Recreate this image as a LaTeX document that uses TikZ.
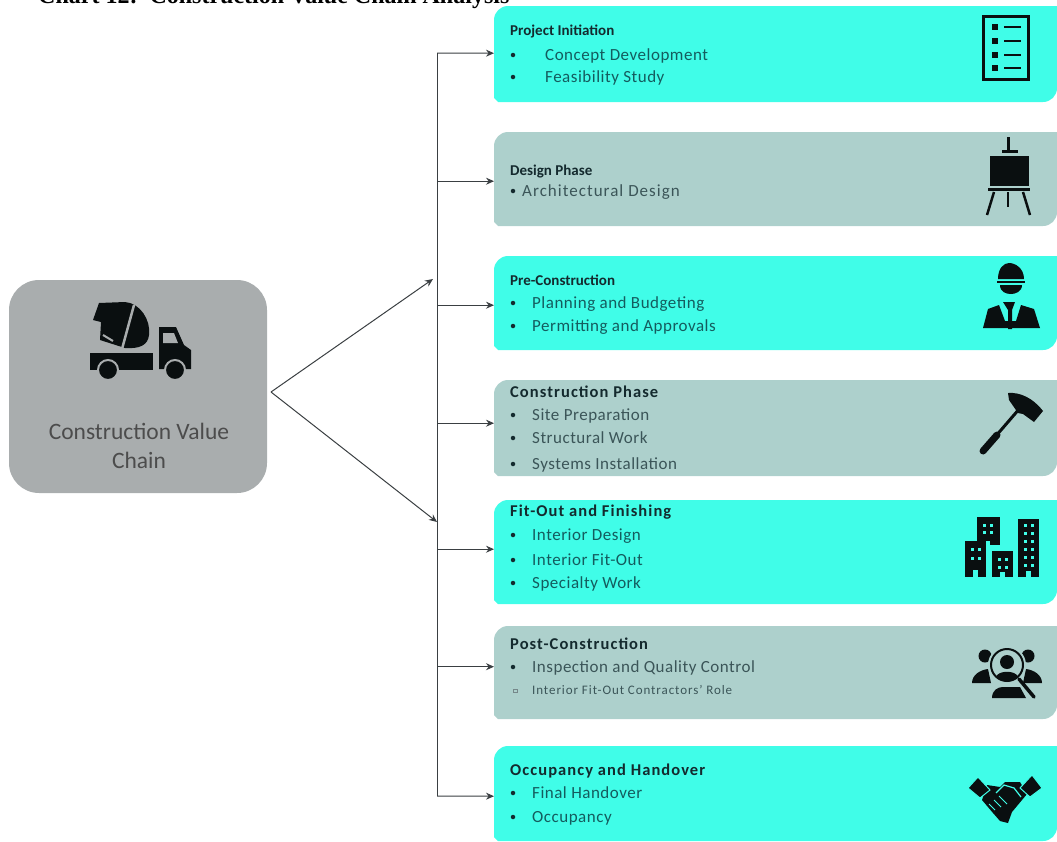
\documentclass[tikz,border=0pt]{standalone}
\usepackage{fontspec}
\setmainfont{Carlito}
\newfontfamily\titlefont{Liberation Serif}
\usetikzlibrary{arrows.meta,calc}
\definecolor{cyanbox}{HTML}{40FDE8}
\definecolor{tealbox}{HTML}{ADD0CC}
\definecolor{greybox}{HTML}{A9ADAE}
\definecolor{linecol}{HTML}{3A3F42}
\definecolor{headcol}{HTML}{142A2E}
\definecolor{itemA}{HTML}{145C5E}
\definecolor{itemB}{HTML}{3B5558}
\definecolor{iconcol}{HTML}{0A0F10}
\tikzset{
  x=1pt,y=-1pt,
  connector/.style={draw=linecol,line width=1pt},
  arrowline/.style={connector,-{Stealth[length=8pt,width=7pt]}},
  head/.style={anchor=base west,inner sep=0pt,font=\fontsize{15}{15}\selectfont\bfseries,text=headcol},
  widehead/.style={anchor=base west,inner sep=0pt,font=\fontsize{16.5}{17}\selectfont\bfseries\addfontfeature{LetterSpace=6.5},text=headcol},
  itemtxt/.style={anchor=base west,inner sep=0pt,font=\fontsize{17}{17}\selectfont\addfontfeature{LetterSpace=3}},
  bul/.style={circle,fill=headcol,inner sep=0pt,minimum size=4.5pt},
  hit/.style={inner sep=0pt,anchor=north west},
  ico/.style={fill=iconcol,draw=none},
}
% name, top, bottom, colour
\newcommand{\phasebox}[4]{%
  \fill[#4] (494,#2+14) arc[start angle=180,end angle=270,radius=14] -- (1057,#2) -- (1057,#3-14)
     arc[start angle=0,end angle=90,radius=14] -- (498,#3) -- (494,#3-4) -- cycle;
  \node[hit,minimum width=563pt,minimum height={(#3-#2)*1pt}] (#1) at (494,#2) {};
}
\newcommand{\bitem}[6]{% name, bullet x, text x, y, colour, text
  \node[bul] (#1b) at (#2,#4-5) {};
  \node[itemtxt,text=#5] (#1) at (#3,#4) {#6};
}
\begin{document}
\begin{tikzpicture}
\useasboundingbox (0,0) rectangle (1057,841);
\clip (0,0) rectangle (1057,841);
\node[anchor=base west,inner sep=0pt,font=\titlefont\fontsize{24}{24}\selectfont\bfseries,text=black] (title) at (38,3) {Chart 12:\ \ Construction Value Chain Analysis};

% main box
\node[fill=greybox,rounded corners=30pt,minimum width=258pt,minimum height=213pt,inner sep=0pt] (main) at (138,386.5) {};
\node[inner sep=0pt,font=\fontsize{23.5}{29}\selectfont,text=black!70,align=center] (mainlabel) at (139,446) {Construction Value\\Chain};

% truck
\fill[ico] (99,303) -- (125,302) .. controls (140,303) and (151,320) .. (149,335) .. controls (148,345) and (140,349) .. (125,348) -- (100,340) -- (101,322) -- (93,320) -- cycle;
\draw[greybox,line width=2.5pt] (134,305) -- (122,349);
\draw[greybox,line width=2pt] (103,335) -- (113,341);
\fill[ico] (90,353) rectangle (153,370);
\fill[ico] (159,327) -- (176,327) -- (184,345) -- (191,350) -- (191,369) -- (159,369) -- cycle;
\fill[greybox] (163,333) -- (174,333) -- (178,343) -- (163,343) -- cycle;
\fill[ico,draw=greybox,line width=2pt] (108,370) circle[radius=10];
\fill[ico,draw=greybox,line width=2pt] (175,370) circle[radius=10];

% phase boxes
\phasebox{b1}{6}{102}{cyanbox}
\phasebox{b2}{132}{226}{tealbox}
\phasebox{b3}{256}{350}{cyanbox}
\phasebox{b4}{380}{476}{tealbox}
\phasebox{b5}{500}{604}{cyanbox}
\phasebox{b6}{626}{719}{tealbox}
\phasebox{b7}{746}{841}{cyanbox}

% connectors
\coordinate (spinetop) at (437,53);
\coordinate (spinebot) at (437,796);
\coordinate (fork) at (271,392);
\coordinate (upend) at (433,279);
\coordinate (downend) at (437,522);
\draw[connector] (spinetop) -- (spinebot);
\draw[arrowline] (spinetop) -- ($(b1.west)+(0,-1)$);
\draw[arrowline] (spinetop |- b2.west) ++(0,2) -- ($(b2.west)+(0,2)$);
\draw[arrowline] (spinetop |- b3.west) ++(0,2) -- ($(b3.west)+(0,2)$);
\draw[arrowline] (spinetop |- b4.west) ++(0,-5) -- ($(b4.west)+(0,-5)$);
\draw[arrowline] (spinetop |- b5.west) ++(0,-3) -- ($(b5.west)+(0,-3)$);
\draw[arrowline] (spinetop |- b6.west) ++(0,-6) -- ($(b6.west)+(0,-6)$);
\draw[arrowline] (spinebot) -- ($(b7.west)+(0,2.5)$);
\draw[arrowline] (fork) -- (upend);
\draw[arrowline] (fork) -- (downend);

% text: project initiation
\node[head] (h1) at (510,35) {Project Initiation};
\bitem{i11}{513}{545}{60}{itemA}{Concept Development}
\bitem{i12}{513}{545}{82}{itemA}{Feasibility Study}
% design
\node[head] (h2) at (510,175) {Design Phase};
\bitem{i21}{513}{522}{196}{itemB}{\addfontfeature{LetterSpace=6}Architectural Design}
% pre-construction
\node[head] (h3) at (510,285) {Pre-Construction};
\bitem{i31}{513}{532}{308}{itemA}{Planning and Budgeting}
\bitem{i32}{513}{532}{331}{itemA}{Permitting and Approvals}
% construction
\node[widehead] (h4) at (510,397) {Construction Phase};
\bitem{i41}{513}{532}{420}{itemB}{Site Preparation}
\bitem{i42}{513}{532}{443}{itemB}{Structural Work}
\bitem{i43}{513}{532}{469}{itemB}{Systems Installation}
% fit-out
\node[widehead] (h5) at (510,516) {Fit-Out and Finishing};
\bitem{i51}{513}{532}{540}{itemA}{Interior Design}
\bitem{i52}{513}{532}{565}{itemA}{Interior Fit-Out}
\bitem{i53}{513}{532}{588}{itemA}{Specialty Work}
% post-construction
\node[widehead] (h6) at (510,649) {Post-Construction};
\bitem{i61}{513}{532}{672}{itemB}{Inspection and Quality Control}
\node[draw=itemB!70,inner sep=0pt,minimum size=3.5pt,line width=.5pt] (i62b) at (515,690.5) {};
\node[itemtxt,text=itemB,font=\fontsize{13}{13}\selectfont\addfontfeature{LetterSpace=7}] (i62) at (532,694) {Interior Fit-Out Contractors' Role};
% occupancy
\node[widehead] (h7) at (510,775) {Occupancy and Handover};
\bitem{i71}{513}{532}{798}{itemA}{Final Handover}
\bitem{i72}{513}{532}{822}{itemA}{Occupancy}

% icon 1: checklist
\draw[iconcol,line width=3pt] (983.5,16.5) rectangle (1028,79.5);
\foreach \yy in {27,41,55,68}{
  \fill[ico] (992,\yy-3) rectangle (998,\yy+3);
  \fill[ico] (1004,\yy-1.2) rectangle (1021,\yy+1.2);
}
% icon 2: easel
\fill[ico] (1006.5,137) rectangle (1009.5,150);
\fill[ico] (1002,149.5) rectangle (1018,152.5);
\fill[ico] (990,156) rectangle (1029,186);
\fill[ico] (988,188) rectangle (1030,191);
\draw[iconcol,line width=2.5pt] (994,192) -- (987,215);
\draw[iconcol,line width=2.5pt] (1008,192) -- (1008,207);
\draw[iconcol,line width=2.5pt] (1023,192) -- (1030,215);
% icon 3: worker
\fill[ico] (998,279) .. controls (998,268) and (1004,263) .. (1009,263) .. controls (1015,263) and (1024,268) .. (1024,279) -- cycle;
\fill[ico] (997,281) rectangle (1025,283);
\fill[ico] (1000,285) -- (1022,285) .. controls (1022,292) and (1015,294) .. (1011,294) .. controls (1006,294) and (1000,292) .. (1000,285) -- cycle;
\fill[ico] (1003,302) -- (1015,302) -- (1012,310) -- (1012,329) -- (1008,329) -- (1008,310) -- cycle;
\fill[ico] (999,305) -- (988,309) -- (983,328) -- (1037,328) -- (1040,328) -- (1034,309) -- (1021,305) -- (1016,321) -- (1005,321) -- cycle;
% icon 4: hammer
\fill[ico] (1008,393) .. controls (1020,392) and (1033,398) .. (1043,411) -- (1034,422) -- (1023,414) -- (1018,413) -- (1009,400) -- cycle;
\draw[iconcol,line width=3pt] (1020,408) -- (995,437);
\draw[iconcol,line width=7pt,line cap=round] (997,435) -- (983,451);
% icon 5: buildings
\fill[ico] (977,517) rectangle (1000,545);
\fill[ico] (965,541) rectangle (986,577);
\fill[ico] (992,551) rectangle (1013,577);
\fill[ico] (1018,519) rectangle (1039,577);
\fill[cyanbox] (986,541) rectangle (990,549);
\foreach \xx in {983,990}{\foreach \yy in {524,531}{\fill[cyanbox] (\xx,\yy) rectangle +(3,3);}}
\foreach \xx in {971,978}{\foreach \yy in {548,557}{\fill[cyanbox] (\xx,\yy) rectangle +(3,3);}}
\foreach \xx in {998,1005}{\foreach \yy in {558,566}{\fill[cyanbox] (\xx,\yy) rectangle +(3,3);}}
\foreach \xx in {1024,1031}{\foreach \yy in {524,532,540,548,556,564}{\fill[cyanbox] (\xx,\yy) rectangle +(3,3);}}
\fill[cyanbox] (973,570) rectangle (978,577);
\fill[cyanbox] (1000,572) rectangle (1005,577);
\fill[cyanbox] (1026,571) rectangle (1031,577);
% icon 6: people and magnifier
\fill[ico] (985,656) circle[radius=6.5];
\fill[ico] (1028,656) circle[radius=6.5];
\fill[ico] (972,683) .. controls (972,675) and (980,670) .. (988,669) -- (991,683) -- cycle;
\fill[ico] (1042,683) .. controls (1042,675) and (1034,670) .. (1026,669) -- (1023,683) -- cycle;
\fill[ico] (992,698) .. controls (992,690) and (998,687) .. (1003,687) -- (1020,687) -- (1026,698) -- cycle;
\fill[tealbox] (1007,665) circle[radius=19];
\draw[iconcol,line width=2pt] (1007,665) circle[radius=16];
\fill[ico] (1007,662) circle[radius=7];
\fill[ico] (996,677) .. controls (998,670) and (1016,670) .. (1018,677) -- (1012,680) -- (1002,680) -- cycle;
\draw[iconcol,line width=3.5pt,line cap=round] (1019,679) -- (1034,697);
% icon 7: handshake
\fill[ico] (987,785) -- (1000,787) -- (1005,782) -- (1020,782) -- (1027,794) -- (1012,812) -- (1008,823) -- (1000,821) -- (993,813) -- (982,800) -- cycle;
\fill[ico,draw=cyanbox,line width=1pt] (968,788) -- (978,777) -- (990,790) -- (980,798) -- cycle;
\fill[ico,draw=cyanbox,line width=1pt] (1042,788) -- (1032,775) -- (1020,788) -- (1030,797) -- cycle;
\draw[cyanbox,line width=1.2pt] (996,793) -- (1004,785) -- (1014,788) -- (1021,797);
\draw[cyanbox,line width=1pt] (989,804) -- (995,810) (994,800) -- (1001,807) (999,796) -- (1007,804);
\end{tikzpicture}
\end{document}
